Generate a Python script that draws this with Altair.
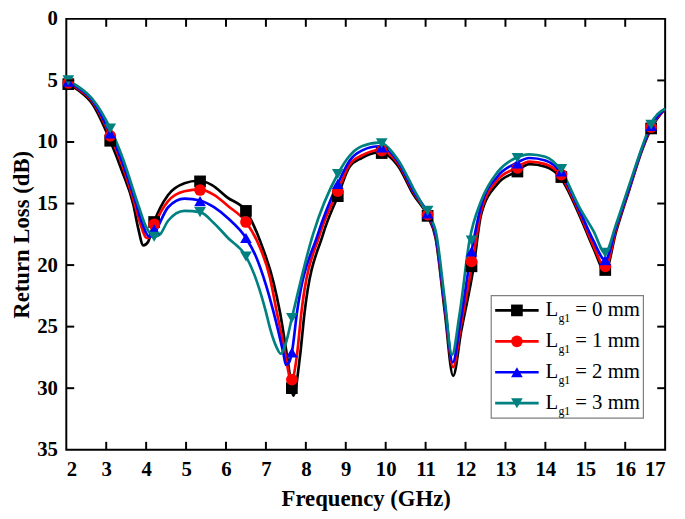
import altair as alt
import pandas as pd

# ---------------- data ----------------
series_names = ["Lg1 = 0 mm", "Lg1 = 1 mm", "Lg1 = 2 mm", "Lg1 = 3 mm"]
series_colors = ["#000000", "#FF0000", "#0000FF", "#008080"]
series_shapes = ["square", "circle", "triangle-up", "triangle-down"]
legend_nums = ["0", "1", "2", "3"]

x0 = [2.0, 2.3, 2.65, 3.1, 3.4, 3.68, 3.8, 3.93, 4.05, 4.2, 4.55, 4.96, 5.3, 5.65, 6.03, 6.5,
      6.85, 7.19, 7.35, 7.55, 7.69, 7.85, 7.97, 8.43, 8.8, 9.1, 9.4, 9.85, 10.3, 10.7, 11.05,
      11.25, 11.48, 11.69, 11.89, 12.2, 12.39, 12.8, 13.25, 13.6, 14.0, 14.37, 14.86, 15.2,
      15.5, 15.77, 16.1, 16.43, 16.65, 17.0]
y0 = [5.2, 5.8, 6.9, 9.9, 12.4, 15.1, 17.0, 18.4, 18.1, 16.5, 14.3, 13.35, 13.15, 13.5, 14.5,
      15.6, 18.0, 21.4, 23.8, 27.8, 30.6, 27.5, 23.8, 17.5, 14.4, 12.0, 11.3, 10.85, 11.9, 14.3,
      16.0, 17.8, 23.8, 29.0, 25.4, 20.2, 15.9, 13.4, 12.45, 11.8, 12.0, 12.85, 16.0, 18.6,
      20.5, 17.3, 13.9, 10.6, 8.9, 7.3]

x1 = [2.0, 2.3, 2.65, 3.1, 3.4, 3.7, 3.85, 4.02, 4.12, 4.22, 4.55, 4.96, 5.35, 5.7, 6.05, 6.5,
      6.8, 7.1, 7.27, 7.45, 7.64, 7.77, 7.89, 8.35, 8.8, 9.1, 9.4, 9.85, 10.3, 10.7, 11.05,
      11.25, 11.48, 11.69, 11.88, 12.18, 12.39, 12.8, 13.25, 13.6, 14.0, 14.37, 14.86, 15.2,
      15.5, 15.77, 16.1, 16.43, 16.65, 17.0]
y1 = [5.1, 5.7, 6.7, 9.5, 11.9, 14.9, 16.6, 17.8, 17.6, 16.7, 14.8, 14.0, 13.85, 14.3, 15.2,
      16.5, 18.2, 21.0, 23.8, 26.6, 29.4, 27.5, 23.8, 17.5, 14.0, 11.8, 11.1, 10.65, 11.7, 14.1,
      15.9, 17.6, 23.4, 28.3, 25.0, 19.7, 15.6, 13.1, 12.15, 11.6, 11.8, 12.65, 15.8, 18.4,
      20.2, 17.1, 13.8, 10.5, 8.8, 7.3]

x2 = [2.0, 2.3, 2.65, 3.1, 3.4, 3.72, 3.9, 4.08, 4.18, 4.28, 4.55, 4.96, 5.35, 5.7, 6.05, 6.5,
      6.75, 7.0, 7.19, 7.44, 7.5, 7.58, 7.65, 7.78, 8.3, 8.8, 9.1, 9.4, 9.85, 10.3, 10.7, 11.05,
      11.25, 11.48, 11.68, 11.87, 12.15, 12.39, 12.8, 13.25, 13.6, 14.0, 14.37, 14.86, 15.2,
      15.5, 15.77, 16.1, 16.43, 16.65, 17.0]
y2 = [5.05, 5.6, 6.6, 9.3, 11.6, 14.7, 16.6, 17.7, 17.6, 17.0, 15.3, 14.6, 14.75, 15.3, 16.2,
      17.8, 19.3, 21.6, 23.8, 27.2, 28.1, 27.9, 27.1, 23.8, 17.5, 13.4, 11.5, 10.7, 10.35,
      11.55, 14.0, 15.8, 17.5, 23.2, 27.9, 24.6, 18.9, 15.2, 12.8, 11.75, 11.3, 11.5, 12.4,
      15.6, 18.0, 19.6, 16.9, 13.7, 10.45, 8.7, 7.3]

x3 = [2.0, 2.3, 2.65, 3.1, 3.4, 3.8, 4.0, 4.22, 4.35, 4.55, 4.96, 5.35, 5.7, 6.05, 6.5, 6.78,
      7.0, 7.1, 7.27, 7.37, 7.52, 7.65, 8.18, 8.8, 9.1, 9.4, 9.83, 10.3, 10.7, 11.0, 11.25,
      11.48, 11.66, 11.85, 12.1, 12.39, 12.8, 13.25, 13.6, 14.0, 14.37, 14.86, 15.2, 15.5,
      15.77, 16.1, 16.43, 16.63, 17.0]
y3 = [5.0, 5.5, 6.5, 8.9, 11.2, 15.1, 16.9, 17.7, 17.5, 16.4, 15.6, 15.7, 16.6, 17.8, 19.3,
      21.4, 23.8, 25.1, 26.7, 27.2, 26.1, 24.3, 17.5, 12.6, 11.1, 10.35, 10.05, 11.4, 13.8,
      15.6, 17.2, 22.8, 27.3, 24.0, 18.0, 14.8, 12.45, 11.3, 11.0, 11.2, 12.2, 15.35, 17.2,
      19.0, 16.7, 13.5, 10.35, 8.6, 7.3]

marker_x = [2.05, 3.1, 4.2, 5.35, 6.5, 7.65, 8.8, 9.9, 11.05, 12.15, 13.3, 14.4, 15.5, 16.65]
marker_y0 = [5.3, 9.9, 16.5, 13.2, 15.6, 30.0, 14.4, 10.9, 16.0, 20.1, 12.4, 12.85, 20.4, 8.9]
marker_y1 = [5.2, 9.5, 16.7, 13.9, 16.5, 29.3, 14.0, 10.7, 15.9, 19.7, 12.1, 12.65, 20.1, 8.8]
marker_y2 = [5.1, 9.3, 17.1, 14.8, 17.8, 27.1, 13.4, 10.45, 15.8, 18.9, 11.75, 12.4, 19.6, 8.7]
marker_y3 = [5.0, 8.9, 17.7, 15.7, 19.3, 24.3, 12.6, 10.1, 15.6, 18.0, 11.3, 12.2, 19.0, 8.6]

x_ticks = list(range(2, 18))
y_ticks = [0, 5, 10, 15, 20, 25, 30, 35]

# ---------------- tables ----------------
curve_xs = [x0, x1, x2, x3]
curve_ys = [y0, y1, y2, y3]
marker_ys = [marker_y0, marker_y1, marker_y2, marker_y3]

rows = []
for i, name in enumerate(series_names):
    for k, (xx, yy) in enumerate(zip(curve_xs[i], curve_ys[i])):
        rows.append({"x": xx, "y": yy, "s": name, "o": i, "k": k})
curves = pd.DataFrame(rows)

mrows = []
for i, name in enumerate(series_names):
    for xx, yy in zip(marker_x, marker_ys[i]):
        mrows.append({"x": xx, "y": yy, "s": name, "o": i})
markers = pd.DataFrame(mrows)

W, H = 606, 436

xscale = alt.Scale(domain=[2, 17], nice=False, zero=False)
yscale = alt.Scale(domain=[0, 35], reverse=True, nice=False, zero=False)
cscale = alt.Scale(domain=series_names, range=series_colors)
sscale = alt.Scale(domain=series_names, range=series_shapes)

xaxis = alt.Axis(values=x_ticks, title="Frequency (GHz)", format="d")
yaxis = alt.Axis(values=y_ticks, title="Return Loss (dB)", format="d")

lines = alt.Chart(curves).mark_line(interpolate="monotone", strokeWidth=2.7).encode(
    x=alt.X("x:Q", scale=xscale, axis=xaxis),
    y=alt.Y("y:Q", scale=yscale, axis=yaxis),
    color=alt.Color("s:N", scale=cscale, legend=None),
    detail="s:N",
    order="k:Q",
)

points = alt.Chart(markers).mark_point(filled=True, size=140, opacity=1).encode(
    x="x:Q",
    y="y:Q",
    color=alt.Color("s:N", scale=cscale, legend=None),
    shape=alt.Shape("s:N", scale=sscale, legend=None),
    order="o:Q",
)

# inward ticks on all four sides
tx = pd.DataFrame({"x": x_ticks[1:-1]})
ty = pd.DataFrame({"y": y_ticks[1:-1]})
tick_len = 8
bottom_ticks = alt.Chart(tx).mark_rule(color="black", strokeWidth=2).encode(
    x="x:Q", y=alt.value(H), y2=alt.value(H - tick_len))
top_ticks = alt.Chart(tx).mark_rule(color="black", strokeWidth=2).encode(
    x="x:Q", y=alt.value(0), y2=alt.value(tick_len))
left_ticks = alt.Chart(ty).mark_rule(color="black", strokeWidth=2).encode(
    y="y:Q", x=alt.value(0), x2=alt.value(tick_len))
right_ticks = alt.Chart(ty).mark_rule(color="black", strokeWidth=2).encode(
    y="y:Q", x=alt.value(W), x2=alt.value(W - tick_len))

# legend (drawn by hand to get the subscript)
one = pd.DataFrame({"a": [0]})
lx0, lx1, ly0, ly1 = 430, 584, 280, 404
row_y0, row_dy = 295, 31.3
legend_layers = [
    alt.Chart(one).mark_rect(fill="white", stroke="#7f7f7f", strokeWidth=1.2).encode(
        x=alt.value(lx0), x2=alt.value(lx1), y=alt.value(ly0), y2=alt.value(ly1))
]
for i, name in enumerate(series_names):
    yc = row_y0 + row_dy * i
    legend_layers.append(alt.Chart(one).mark_rule(color=series_colors[i], strokeWidth=2.7).encode(
        x=alt.value(434), x2=alt.value(478), y=alt.value(yc)))
    legend_layers.append(alt.Chart(one).mark_point(
        filled=True, size=140, opacity=1, color=series_colors[i], shape=series_shapes[i]).encode(
        x=alt.value(456), y=alt.value(yc)))
    legend_layers.append(alt.Chart(one).mark_text(
        text="L", align="left", baseline="middle", font="Liberation Serif", fontSize=21,
        color="black").encode(x=alt.value(485), y=alt.value(yc)))
    legend_layers.append(alt.Chart(one).mark_text(
        text="g1", align="left", baseline="middle", font="Liberation Serif", fontSize=12,
        color="black").encode(x=alt.value(498), y=alt.value(yc + 8)))
    legend_layers.append(alt.Chart(one).mark_text(
        text="= " + legend_nums[i] + " mm", align="left", baseline="middle",
        font="Liberation Serif", fontSize=21, color="black").encode(
        x=alt.value(515), y=alt.value(yc)))

chart = alt.layer(
    lines, points, bottom_ticks, top_ticks, left_ticks, right_ticks, *legend_layers
).properties(
    width=W, height=H,
    autosize=alt.AutoSizeParams(type="none"),
    padding={"left": 59, "top": 8, "right": 12, "bottom": 60},
).configure_view(
    stroke="black", strokeWidth=2
).configure_axis(
    labelFont="Liberation Serif", labelFontWeight="bold", labelFontSize=21, labelColor="black",
    titleFont="Liberation Serif", titleFontWeight="bold", titleFontSize=23, titleColor="black",
    grid=False, ticks=False, tickSize=0, domain=False
).configure_axisX(
    labelPadding=9, titlePadding=8
).configure_axisY(
    labelPadding=9, titlePadding=3
)

chart.save("out.html", embed_options={"renderer": "svg", "actions": False})
